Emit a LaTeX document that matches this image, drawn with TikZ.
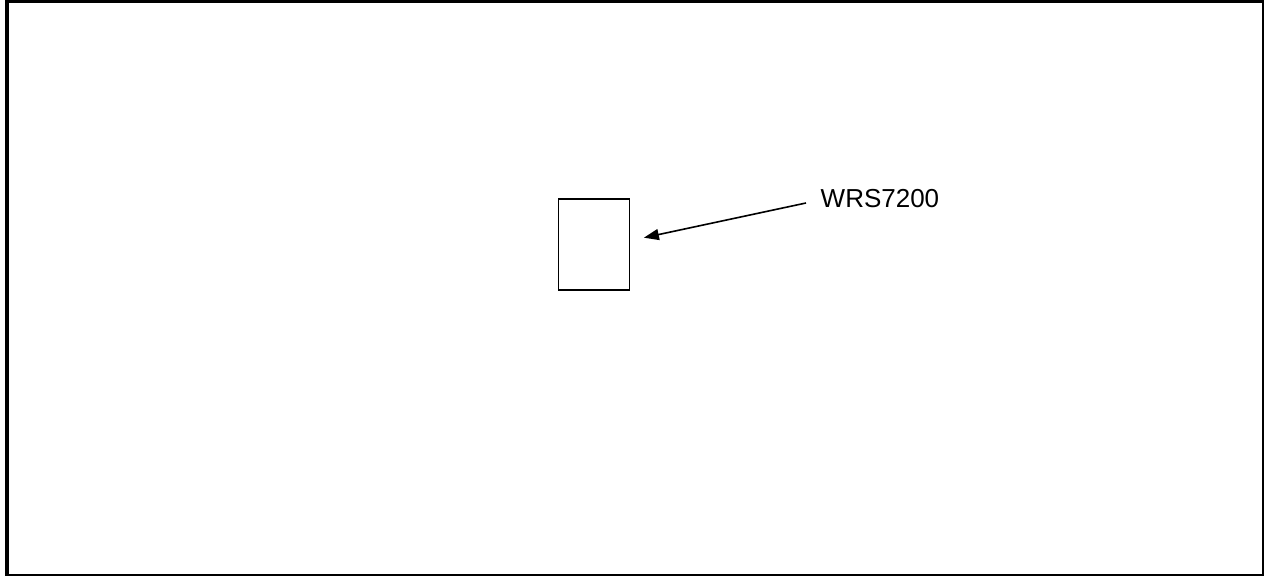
\documentclass[tikz,border=0pt]{standalone}
\usepackage{fontspec}
\setmainfont{Liberation Sans}
\usetikzlibrary{arrows.meta}
\begin{document}
\begin{tikzpicture}[x=1pt,y=-1pt,
  devbox/.style={draw=black,line width=1.4pt,minimum width=71pt,minimum height=91pt,inner sep=0pt,anchor=north west},
  lbl/.style={font=\fontsize{26}{30}\selectfont,inner sep=0pt,anchor=base west},
  pointer/.style={line width=1.6pt,-{Triangle[length=15pt,width=11pt]}}]
\useasboundingbox (0,0) rectangle (1266,577);
\draw[line width=3.4pt] (6.8,1.7) -- (1263,1.7);
\draw[line width=3.4pt] (6.8,0) -- (6.8,576);
\draw[line width=1.5pt] (1263,0) -- (1263,575) -- (5,575);
\node[devbox] (dev) at (557.5,198.5) {};
\node[lbl] (lab) at (820.5,207.3) {WRS7200};
\coordinate (tail) at (806,203);
\draw[pointer] (tail) -- ([xshift=14pt,yshift=7pt]dev.east);
\end{tikzpicture}
\end{document}
